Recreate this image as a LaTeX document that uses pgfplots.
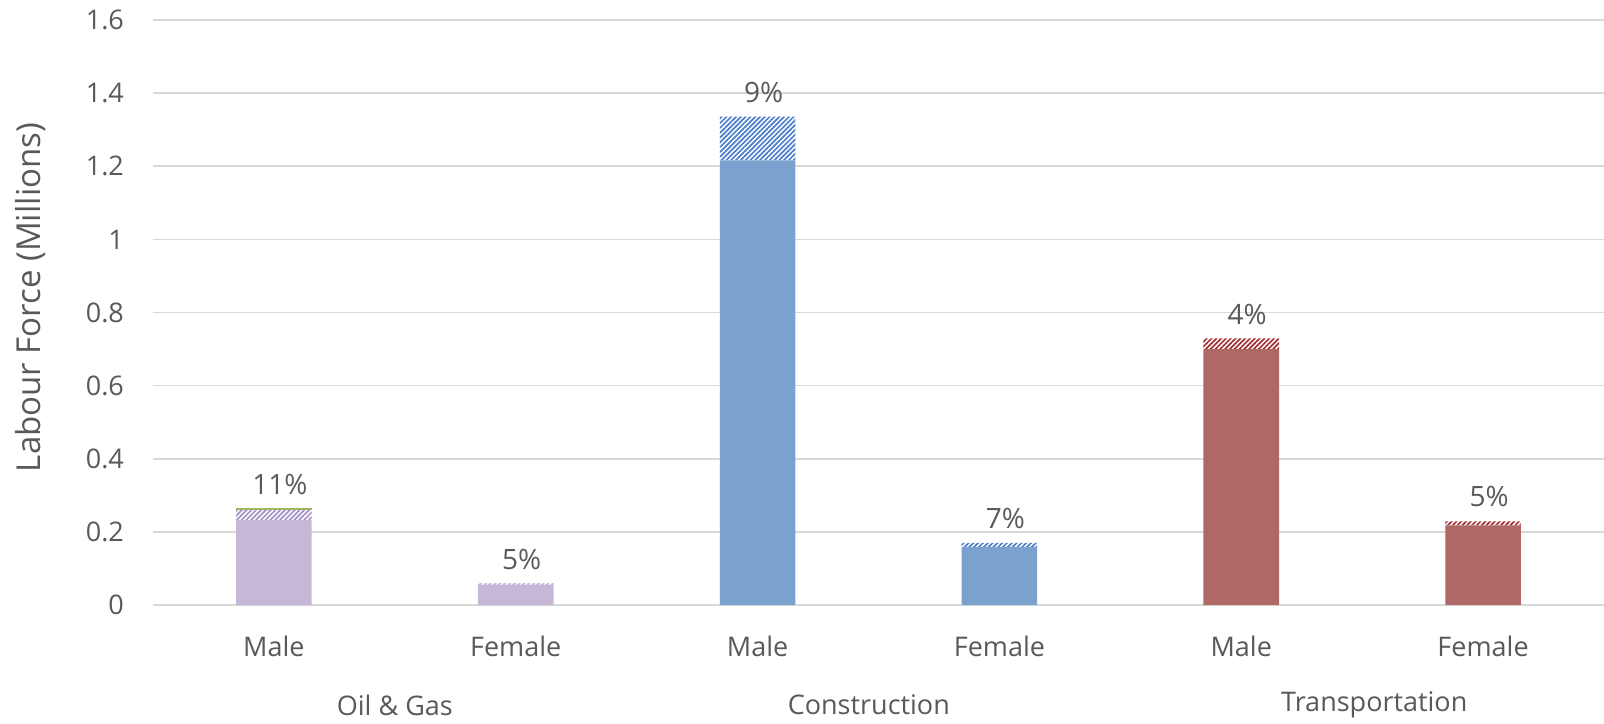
\documentclass[border=0pt]{standalone}
\usepackage{pgfplots}
\pgfplotsset{compat=1.18}
\usepackage{fontspec}
\setmainfont{Open Sans}
\usetikzlibrary{patterns.meta}

\definecolor{textgray}{HTML}{595959}
\definecolor{gridgray}{HTML}{D9D9D9}
\definecolor{oilS}{HTML}{C5B7D5}
\definecolor{oilH}{HTML}{A590C6}
\definecolor{conS}{HTML}{7BA2CE}
\definecolor{conH}{HTML}{4A7EC8}
\definecolor{traS}{HTML}{AE6966}
\definecolor{traH}{HTML}{A12E33}
\definecolor{oilG}{HTML}{9BBB59}

\begin{document}
\begin{tikzpicture}[font=\fontsize{13.5}{16}\selectfont, text=textgray]
\begin{axis}[
    scale only axis,
    width=725.5pt, height=292.5pt,
    clip=false,
    ybar stacked,
    bar width=37.8pt,
    xmin=-0.5, xmax=5.5,
    ymin=0, ymax=1.6,
    xtick={0,1,2,3,4,5},
    xticklabels={Male,Female,Male,Female,Male,Female},
    ytick={0,0.2,0.4,0.6,0.8,1,1.2,1.4,1.6},
    ymajorgrids,
    grid style={gridgray, line width=0.8pt},
    axis line style={draw=none},
    major tick length=0pt,
    /pgf/number format/assume math mode=true,
    yticklabel style={anchor=east, xshift=-11pt, text=textgray},
    xticklabel style={yshift=-12pt, text=textgray},
]
    % Oil & Gas
    \addplot[fill=oilS, draw=none] coordinates {
        (0,0.232) (1,0.056) (2,0) (3,0) (4,0) (5,0)
    };
    \addplot[draw=none, pattern={Lines[angle=45,distance=1.7pt,line width=0.85pt]}, pattern color=oilH] coordinates {
        (0,0.029) (1,0.003) (2,0) (3,0) (4,0) (5,0)
    };
    \addplot[fill=oilG, draw=none] coordinates {
        (0,0.003) (1,0) (2,0) (3,0) (4,0) (5,0)
    };
    % Construction
    \addplot[fill=conS, draw=none] coordinates {
        (0,0) (1,0) (2,1.216) (3,0.158) (4,0) (5,0)
    };
    \addplot[draw=none, pattern={Lines[angle=45,distance=1.7pt,line width=0.85pt]}, pattern color=conH] coordinates {
        (0,0) (1,0) (2,0.12) (3,0.012) (4,0) (5,0)
    };
    % Transportation
    \addplot[fill=traS, draw=none] coordinates {
        (0,0) (1,0) (2,0) (3,0) (4,0.70) (5,0.218)
    };
    \addplot[draw=none, pattern={Lines[angle=45,distance=1.7pt,line width=0.85pt]}, pattern color=traH] coordinates {
        (0,0) (1,0) (2,0) (3,0) (4,0.029) (5,0.011)
    };
    % share labels on top of each stack
    \addplot[draw=none, fill=none,
        point meta=explicit symbolic,
        nodes near coords,
        every node near coord/.append style={anchor=south, yshift=3.5pt, xshift=3pt,
            text=textgray, font=\fontsize{14}{16}\selectfont},
    ] coordinates {
        (0,0.0001) [11\%] (1,0.0001) [5\%] (2,0.0001) [9\%] (3,0.0001) [7\%] (4,0.0001) [4\%] (5,0.0001) [5\%]
    };

    \node at (axis cs:0.5,0) [yshift=-50pt] {Oil \& Gas};
    \node at (axis cs:2.46,0) [yshift=-50pt] {Construction};
    \node at (axis cs:4.55,0) [yshift=-50pt] {Transportation};
\end{axis}
\node[rotate=90, font=\fontsize{16.5}{19}\selectfont] at ([xshift=-61pt, yshift=7.5pt]current axis.west) {Labour Force (Millions)};
\pgfresetboundingbox
\path ([shift={(-76.5pt,-59pt)}]current axis.south west) rectangle ([yshift=10pt]current axis.north east);
\end{tikzpicture}
\end{document}
